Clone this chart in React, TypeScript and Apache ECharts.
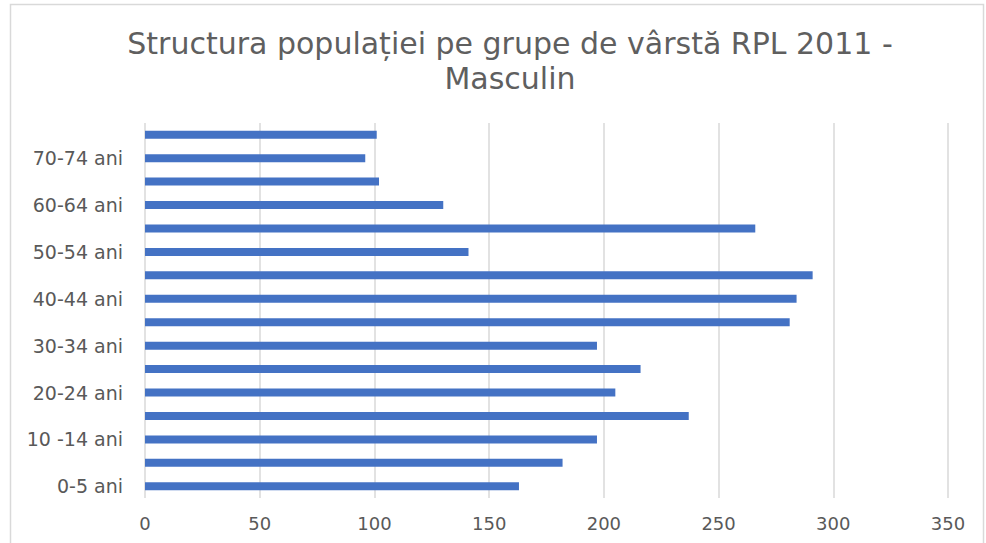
import React, { useEffect, useRef } from "react";
import * as echarts from "echarts";

const categories = [
  "0-5 ani", "5-9 ani", "10 -14 ani", "15-19 ani", "20-24 ani", "25-29 ani",
  "30-34 ani", "35-39 ani", "40-44 ani", "45-49 ani", "50-54 ani", "55-59 ani",
  "60-64 ani", "65-69 ani", "70-74 ani", "75+ ani",
];
const values = [163, 182, 197, 237, 205, 216, 197, 281, 284, 291, 141, 266, 130, 102, 96, 101];
const titleText = "Structura populației pe grupe de vârstă RPL 2011 -\nMasculin";

export default function App() {
  const ref = useRef<HTMLDivElement>(null);
  useEffect(() => {
    if (!ref.current) return;
    const chart = echarts.init(ref.current, undefined, { renderer: "svg" });
    chart.setOption({
      animation: false,
      backgroundColor: "#ffffff",
      title: {
        text: titleText,
        left: 505,
        textAlign: "center",
        top: 21,
        textStyle: {
          fontFamily: "DejaVu Sans",
          fontSize: 30,
          fontWeight: "normal",
          color: "#5f5f5f",
          lineHeight: 35,
        },
      },
      graphic: [
        {
          type: "rect",
          shape: { x: 10.5, y: 4.5, width: 973, height: 560 },
          style: { fill: "none", stroke: "#d9d9d9", lineWidth: 1.5 },
          silent: true,
        },
      ],
      grid: { left: 145, right: 38, top: 123, bottom: 45, containLabel: false },
      xAxis: {
        type: "value",
        min: 0,
        max: 350,
        interval: 50,
        axisLine: { show: false },
        axisTick: { show: false },
        splitLine: { lineStyle: { color: "#d9d9d9", width: 1.5 } },
        axisLabel: {
          color: "#595959",
          fontFamily: "DejaVu Sans",
          fontSize: 18,
          margin: 16,
        },
      },
      yAxis: {
        type: "category",
        data: categories,
        axisLine: { show: false },
        axisTick: { show: false },
        axisLabel: {
          interval: 1,
          color: "#595959",
          fontFamily: "DejaVu Sans",
          fontSize: 19,
          margin: 22,
        },
      },
      series: [
        {
          type: "bar",
          data: values,
          barWidth: 8,
          itemStyle: { color: "#4472c4" },
        },
      ],
    });
    return () => chart.dispose();
  }, []);
  return (
    <div
      ref={ref}
      style={{ position: "fixed", left: 0, top: 0, width: 986, height: 543 }}
    />
  );
}
